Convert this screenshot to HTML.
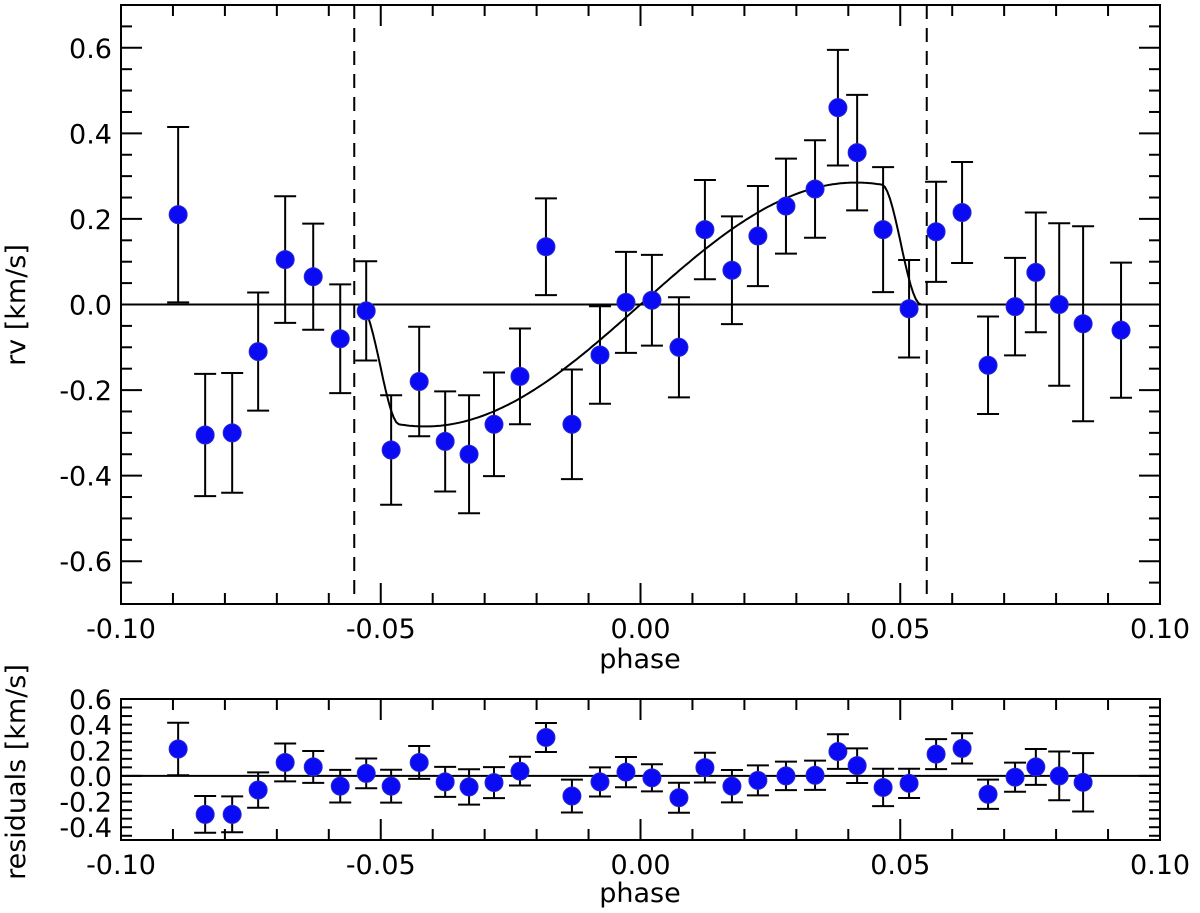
<!DOCTYPE html>
<html><head><meta charset="utf-8"><style>
html,body{margin:0;padding:0;background:#fff;}
svg{display:block;font-family:"DejaVu Sans","Liberation Sans",sans-serif;}
</style></head><body>
<svg id="chart" width="1200" height="913" viewBox="0 0 1200 913"></svg>
<script>
const phases=[-0.089,-0.0838,-0.0786,-0.0736,-0.0684,-0.063,-0.0578,-0.0528,-0.048,-0.0426,-0.0376,-0.033,-0.0282,-0.0232,-0.0182,-0.0132,-0.0078,-0.0028,0.0022,0.0074,0.0124,0.0176,0.0226,0.028,0.0336,0.038,0.0417,0.0467,0.0517,0.0569,0.0619,0.0669,0.0721,0.0761,0.0806,0.0852,0.0925];
const rvValues=[0.21,-0.305,-0.30,-0.11,0.105,0.065,-0.08,-0.015,-0.34,-0.18,-0.32,-0.35,-0.28,-0.168,0.135,-0.28,-0.118,0.005,0.01,-0.10,0.175,0.08,0.16,0.23,0.27,0.46,0.355,0.175,-0.01,0.17,0.215,-0.142,-0.005,0.075,0.0,-0.045,-0.06];
const rvErrors=[0.205,0.143,0.14,0.138,0.148,0.124,0.127,0.116,0.128,0.128,0.117,0.138,0.121,0.112,0.113,0.128,0.114,0.118,0.106,0.117,0.116,0.126,0.117,0.111,0.114,0.135,0.135,0.146,0.114,0.117,0.118,0.114,0.114,0.14,0.19,0.228,0.158];
const residuals=[0.21,-0.30,-0.30,-0.11,0.105,0.07,-0.08,0.02,-0.08,0.105,-0.047,-0.086,-0.052,0.037,0.30,-0.157,-0.047,0.03,-0.015,-0.17,0.065,-0.08,-0.035,0.0,0.005,0.19,0.08,-0.09,-0.058,0.17,0.215,-0.143,-0.01,0.07,0.0,-0.05];
const xTickLabels=["-0.10","-0.05","0.00","0.05","0.10"];
const mainYTickLabels=["-0.6","-0.4","-0.2","0.0","0.2","0.4","0.6"];
const resYTickLabels=["-0.4","-0.2","0.0","0.2","0.4","0.6"];
const transitEdges=[-0.0551,0.0551];

const NS="http://www.w3.org/2000/svg";
const svg=document.getElementById('chart');
function mk(tag,attrs,parent){const e=document.createElementNS(NS,tag);for(const k in attrs)e.setAttribute(k,attrs[k]);(parent||svg).appendChild(e);return e;}

function model(p){
  const half=0.054,w=0.0075;
  let f=(half-Math.abs(p))/w; f=Math.max(0,Math.min(1,f)); f=f*f*(3-2*f);
  return 0.285*Math.sin(2*Math.PI*p/0.166)*f;
}

function panel(cfg){
  const {L,R,T,B,ymin,ymax,name}=cfg;
  const g=mk('g',{});
  
  
  const X=v=>L+(v+0.10)/0.20*(R-L);
  const Y=v=>B-(v-ymin)/(ymax-ymin)*(B-T);
  for(let i=-10;i<=10;i++){
    const v=i/100,x=X(v),major=(i%5===0),len=major?21:11;
    mk('line',{x1:x,y1:B,x2:x,y2:B-len,stroke:'#000','stroke-width':2},g);
    mk('line',{x1:x,y1:T,x2:x,y2:T+len,stroke:'#000','stroke-width':2},g);
  }
  xTickLabels.forEach(s=>{const t=mk('text',{x:X(parseFloat(s)),y:B+34,'font-size':27,'text-anchor':'middle'},g);t.textContent=s;});
  const step=cfg.minorStep;
  for(let v=Math.ceil(ymin/step-1e-6)*step;v<=ymax+1e-6;v+=step){
    const y=Y(v),major=Math.abs(Math.round(v/0.2)*0.2-v)<1e-6,len=major?21:11;
    mk('line',{x1:L,y1:y,x2:L+len,y2:y,stroke:'#000','stroke-width':2},g);
    mk('line',{x1:R,y1:y,x2:R-len,y2:y,stroke:'#000','stroke-width':2},g);
  }
  cfg.yLabels.forEach(s=>{const t=mk('text',{x:L-9,y:Y(parseFloat(s))+10,'font-size':27,'text-anchor':'end'},g);t.textContent=s;});
  mk('line',{x1:L,y1:Y(0),x2:R,y2:Y(0),stroke:'#000','stroke-width':2},g);
  return {g,X,Y};
}

const m=panel({L:121,R:1160,T:5,B:604,ymin:-0.7,ymax:0.7,minorStep:0.05,yLabels:mainYTickLabels,name:'main-panel'});
transitEdges.forEach(v=>{const l=mk('line',{x1:m.X(v),y1:5,x2:m.X(v),y2:604,stroke:'#000','stroke-width':2,'stroke-dasharray':'14,9'},m.g);});
let d='';
for(let p=-0.1;p<=0.1+1e-9;p+=0.0005){d+=(d?'L':'M')+m.X(p).toFixed(1)+','+m.Y(model(p)).toFixed(1);}
const mp=mk('path',{d:d,fill:'none',stroke:'#000','stroke-width':2},m.g);

function points(P,vals,errs,r){
  vals.forEach((v,i)=>{
    const x=P.X(phases[i]),e=errs[i],y1=P.Y(v+e),y2=P.Y(v-e);
    const gg=mk('g',{},P.g);
    
    
    mk('line',{x1:x,y1:y1,x2:x,y2:y2,stroke:'#000','stroke-width':2},gg);
    mk('line',{x1:x-11,y1:y1,x2:x+11,y2:y1,stroke:'#000','stroke-width':2},gg);
    mk('line',{x1:x-11,y1:y2,x2:x+11,y2:y2,stroke:'#000','stroke-width':2},gg);
    mk('circle',{cx:x,cy:P.Y(v),r:r,fill:'#0a0af5',stroke:'#2a2ad0','stroke-width':1},gg);
  });
}
points(m,rvValues,rvErrors,9);
mk('rect',{x:121,y:5,width:1039,height:599,fill:'none',stroke:'#000','stroke-width':2},m.g);
let t=mk('text',{x:640,y:668,'font-size':27,'text-anchor':'middle'});t.textContent='phase';
t=mk('text',{x:0,y:0,'font-size':27,'text-anchor':'middle',transform:'translate(25,305) rotate(-90)'});t.textContent='rv [km/s]';

const r=panel({L:121,R:1160,T:699,B:840,ymin:-0.5,ymax:0.6,minorStep:0.0667,yLabels:resYTickLabels,name:'residual-panel'});
points(r,residuals,rvErrors,9);
mk('rect',{x:121,y:699,width:1039,height:141,fill:'none',stroke:'#000','stroke-width':2},r.g);
t=mk('text',{x:640,y:902,'font-size':27,'text-anchor':'middle'});t.textContent='phase';
t=mk('text',{x:0,y:0,'font-size':27,'text-anchor':'middle',transform:'translate(25,772) rotate(-90)'});t.textContent='residuals [km/s]';
</script>
</body></html>
